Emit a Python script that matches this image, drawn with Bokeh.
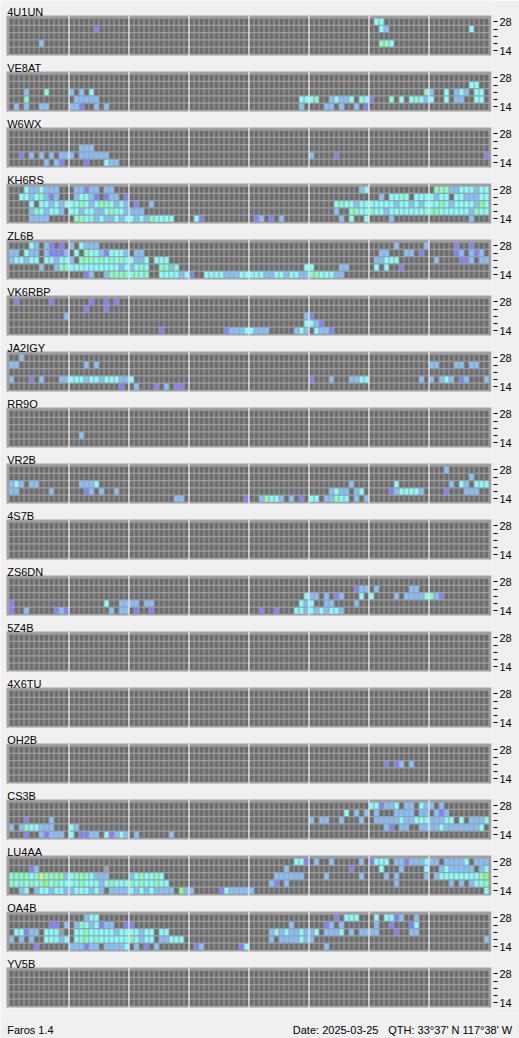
from bokeh.plotting import figure
from bokeh.layouts import column
from bokeh.models import LinearAxis, FixedTicker, Range1d, ColumnDataSource
from bokeh.embed import file_html
from bokeh.resources import INLINE
from bokeh.core.properties import value

# ---------------- data ----------------
STATIONS = ["4U1UN", "VE8AT", "W6WX", "KH6RS", "ZL6B", "VK6RBP", "JA2IGY", "RR9O",
            "VR2B", "4S7B", "ZS6DN", "5Z4B", "4X6TU", "OH2B", "CS3B", "LU4AA",
            "OA4B", "YV5B"]
BANDS = ["28", "24", "21", "18", "14"]          # rows, top to bottom
BAND_LABELS = ["28", "", "", "", "14"]
SLOTS_PER_GROUP = 12                            # 15-minute slots, 3 h per group
GROUPS = 8

# each row: 8 groups of 12 slots; "E" = empty group
# codes: . none, p/b/c/g/G/y signal levels, x gray
st_4U1UN = [
    "E E E E E E .cc E",
    "E .....p E E E E ..cb ........c",
    "E E E E E E E E",
    "......b E E E E E ..ggc E",
    "E E E E E E E E",
]
st_VE8AT = [
    "E E E E E E E E",
    "E E E E E E E ........cc",
    "...b...g b.b.c E E E E ...........g b..c.bcb.cc",
    "...g .bbbbb E E ..........cc cg..bcbbc.cc p...g.c.cgcb c..c.bb..cc",
    ".b.b..bb bbp..b.b E E ..........b ...bb.b..b.p E E",
]
st_W6WX = [
    "E E E E E E E E",
    "E E E E E E E E",
    "E ..bbb E E E E E E",
    "..p.b.b.b.bb b.bbbbbb E E E b....p E ...........p",
    ".......b.bp. ...p...cbb E E E E E E",
]
st_KH6RS = [
    "...cbbcbbb .bbpbb.bb E E E ..........bc E .gggbbcccbcc",
    "..ccbcgbpb .bccbp.pbb.p E E E E ..b.ccgc.ccc cbcc.ccbbbcc",
    "....c.ccbcbc ccgcbcggcbcb .p..b E E .....cgccbcc cccccbccbcbc ccgcbccccbGc",
    "....bgcbccb ccbccbbcgccb bbb E E .....b..ggcc gccbcccccccc ggccccccbgcc",
    "....bbbb .ggcgbcbbcbc cbcbgcccc .cp .pb.p.b ......b.c..c ....b ........b",
]
st_ZL6B = [
    "....cb.bp.p. b.cbbb E E E E .....b.....b .....p..p",
    "bb.cbb.bpppb .c.gccbpcccb .bb E E E ..bb...bb.p. .....pb.bpb.",
    "bccbcc.ccbcc b.gggcgcgcgc cbbc.ccc E E E .bbccc .b....ppb.bb",
    "......b..bgg ccccccccccbc bcgc..ggbg E ...........c c.....bb .c.c..p E",
    "E ...pb..bgggg cgcg..ccccbc p..ccccbbbcc cccbbccbccbb ggcccbb E E",
]
st_VK6RBP = [
    ".p......p ....p..p.p E E E E E E",
    "E ...p...p E E E E E E",
    "...........b E E E ...........b p E E",
    "E E E E ...........c cbp E E",
    "E E ......p .......pbbbc cbbb.....bcb .cbbp E E",
]
st_JA2IGY = [
    "..b E E E E E E E",
    "bb ...b.b E E E E E bb...bb.bb",
    "E E E E E E E E",
    "b...p.b...bb cccbccbcccbb c E E p...b...bbcc ..........b. b.bcb.pb...b",
    "E ..........p. .b...p.b.pp. E E E E E",
]
st_RR9O = [
    "E E E E E E E E",
    "E E E E E E E E",
    "E E E E E E E E",
    "E ..b E E E E E E",
    "E E E E E E E E",
]
st_VR2B = [
    "E E E E E E E ...b",
    "E E E E E E E ........b",
    "bcb.bb ..bbbc E E E ........b .....c ....b.cb.ccc",
    "bb......b ...pb.b..b E E E ....bcbb.bc. ....pbccccb. ...p...bbb",
    "E E .........bb. ...........p ..bgccb.b.p. cc.bbgcc.b.b E E",
]
st_4S7B = [
    "E E E E E E E E",
    "E E E E E E E E",
    "E E E E E E E E",
    "E E E E E E E E",
    "E E E E E E E E",
]
st_ZS6DN = [
    "E E E E E E E E",
    "E E E E E .........pbb .b......bb E",
    "E E E E ...........c bb.b.pb...c. c....b.bbbbc gbp",
    "p .......c..bb bb.bb E ..........cb c..bb....b E E",
    "p..b.....pbp ........b.bb .p..p E ..p..p...ccb cbcbccb E E",
]
st_5Z4B = [
    "E E E E E E E E",
    "E E E E E E E E",
    "E E E E E E E E",
    "E E E E E E E E",
    "E E E E E E E E",
]
st_4X6TU = [
    "E E E E E E E E",
    "E E E E E E E E",
    "E E E E E E E E",
    "E E E E E E E E",
    "E E E E E E E E",
]
st_OH2B = [
    "E E E E E E E E",
    "E E E E E E E E",
    "E E E E E E ...p.pb.b E",
    "E E E E E E E E",
    "E E E E E E E E",
]
st_CS3B = [
    "E E E E E E ccpbbc.bb.cb b.b",
    "E E E E E .......c.b.b .b...bbbb.bb .bpb",
    "...p....b E E E E b.bb..b...b. .bbbbbcbbccc bbbcc.c.bbbc",
    "b.bgccbbb cb E E E E ...bp.bb..bb bbcbbbbbbbc.",
    "...p..bpbbb. c.ppbb.cpbcb .b......b E E E E E",
]
st_LU4AA = [
    "E E E E .........ccp .b..b.....b. pccc.bbpbbbc bb.bbbbc.bbb",
    "....pb .......x E E .......b ........p ..c...b....c ..bcbbbbb.bc",
    "ggggcgygggGb cgggcbbb bcgccgc E .....bbbbbb. ...b......b. ...b.b.....b .bccccccccgG",
    "gcgcgcgGcgcc ccgcccbcgccc gcgccgcc E ....bp.b E .....b ....b.b.bccg",
    "..bc.bccbccb bcccbcb.bbbb cbcbcbbbb.Gb b.....pcbbbb b E E ...........c",
]
st_OA4B = [
    "E ...bcc E E E .....p.ccc.. .c.ccpb..b E",
    "........pp.b .bgcbcpbb..p p E ........b ...pb.b .b..p...pc E",
    ".ccpbb.cccx. .ccgcccccbcc ccbcc.cc E ....bcbcbbcb bc.bbbc.b.bb bb...p..bb E",
    "b.b.b..cccbc .cggcgcccccc gcbcc.bbccc. E ....b.bbbbcb b E ...........b",
    ".....p bbbpbb.bbbbc .b.p.b .pb.......pc E ...b E E",
]
st_YV5B = [
    "E E E E E E E E",
    "E E E E E E E E",
    "E E E E E E E E",
    "E E E E E E E E",
    "E E E E E E E E",
]

GRIDS = [st_4U1UN, st_VE8AT, st_W6WX, st_KH6RS, st_ZL6B, st_VK6RBP, st_JA2IGY,
         st_RR9O, st_VR2B, st_4S7B, st_ZS6DN, st_5Z4B, st_4X6TU, st_OH2B,
         st_CS3B, st_LU4AA, st_OA4B, st_YV5B]

FOOTER_LEFT = "Faros 1.4"
FOOTER_DATE = "Date: 2025-03-25"
FOOTER_QTH = "QTH: 33°37' N"
FOOTER_LON = "117°38' W"

# ---------------- style / layout ----------------
COLORS = {".": "#6e6e6e", "p": "#8080ff", "b": "#80c0ff", "c": "#80ffff",
          "g": "#80ffc0", "G": "#80ff80", "y": "#c0ff80", "x": "#a0a0a0"}
PANEL_COLOR = "#a0a0a0"
BG = "#f0f0f0"
FONT = "Liberation Sans"

W = 519
MAIN_H = 1012
FOOT_H = 26
FRAME_W = 491
SLOT_PX = 5.0
CELL_X0_PX = 9.0                    # pixel of the first slot
X0 = -CELL_X0_PX / SLOT_PX
X1 = X0 + FRAME_W / SLOT_PX
PANEL_X0 = X0 + 6.0 / SLOT_PX
CELL_W = 0.8
PANEL_TOP0 = 15.0
PANEL_PITCH = 56.0
PANEL_H = 40.0
ROW_OFF = 3.3
ROW_PITCH = 7.25
CELL_H = 5.9


def expand(rows):
    out = []
    for s in rows:
        line = "".join(("" if g == "E" else g).ljust(SLOTS_PER_GROUP, ".")[:SLOTS_PER_GROUP]
                       for g in s.split())
        out.append(line.ljust(SLOTS_PER_GROUP * GROUPS, ".")[:SLOTS_PER_GROUP * GROUPS])
    return out


p = figure(width=W, height=MAIN_H, frame_width=FRAME_W, frame_height=MAIN_H,
           x_range=Range1d(X0, X1), y_range=Range1d(MAIN_H, 0),
           x_axis_location=None, y_axis_location=None, title=None,
           toolbar_location=None, output_backend="svg",
           min_border_left=0, min_border_right=W - FRAME_W,
           min_border_top=0, min_border_bottom=0,
           background_fill_color=BG, border_fill_color=BG)
p.outline_line_color = None
p.grid.visible = False

# panel backgrounds
ptops = [PANEL_TOP0 + PANEL_PITCH * i for i in range(len(STATIONS))]
p.quad(left=[PANEL_X0] * len(ptops), right=[X1] * len(ptops), top=ptops,
       bottom=[t + PANEL_H for t in ptops], fill_color=PANEL_COLOR, line_color=None)

# cells
L, R, T, B, C = [], [], [], [], []
for i, grid in enumerate(GRIDS):
    pt = ptops[i]
    for r, line in enumerate(expand(grid)):
        top = pt + ROW_OFF + ROW_PITCH * r
        for c, ch in enumerate(line):
            L.append(c)
            R.append(c + CELL_W)
            T.append(top)
            B.append(top + CELL_H)
            C.append(COLORS.get(ch, COLORS["."]))
src = ColumnDataSource(dict(left=L, right=R, top=T, bottom=B, color=C))
p.quad(left="left", right="right", top="top", bottom="bottom", fill_color="color",
       line_color=None, source=src)

# 3-hour separators
sl, sr, st, sb = [], [], [], []
for pt in ptops:
    for k in range(1, GROUPS):
        x = k * SLOTS_PER_GROUP
        sl.append(x - (1 - CELL_W))
        sr.append(x)
        st.append(pt)
        sb.append(pt + PANEL_H)
p.quad(left=sl, right=sr, top=st, bottom=sb, fill_color="#ffffff", line_color=None)

# station titles
p.text(x=[X0 + 6.7 / SLOT_PX] * len(ptops), y=[t - 3.3 for t in ptops], text=STATIONS,
       text_font=value(FONT), text_font_size="11px", text_color="black",
       text_align="left", text_baseline="alphabetic")

# band axis on the right
ticks, overrides = [], {}
for pt in ptops:
    for r in range(len(BANDS)):
        t = round(pt + ROW_OFF + ROW_PITCH * r + CELL_H / 2, 2)
        ticks.append(t)
        overrides[t] = BAND_LABELS[r]
ax = LinearAxis(ticker=FixedTicker(ticks=ticks), major_label_overrides=overrides,
                axis_line_color=None, minor_tick_line_color=None,
                major_tick_in=-2, major_tick_out=6, major_tick_line_color="black",
                major_label_standoff=2, major_label_text_font=FONT,
                major_label_text_font_size="11px", major_label_text_color="black")
p.add_layout(ax, "right")

# footer strip
f = figure(width=W, height=FOOT_H, frame_width=W, frame_height=FOOT_H,
           x_range=Range1d(0, W), y_range=Range1d(FOOT_H, 0),
           x_axis_location=None, y_axis_location=None, title=None,
           toolbar_location=None, output_backend="svg",
           min_border_left=0, min_border_right=0, min_border_top=0, min_border_bottom=0,
           background_fill_color=BG, border_fill_color=BG)
f.outline_line_color = None
f.grid.visible = False
FY = 17.3
f.text(x=[6.7, 292.3, 387.7], y=[FY] * 3, text=[FOOTER_LEFT, FOOTER_DATE, FOOTER_QTH],
       text_font=value(FONT), text_font_size="11px", text_color="black",
       text_align="left", text_baseline="alphabetic")
f.text(x=[511.7], y=[FY], text=[FOOTER_LON],
       text_font=value(FONT), text_font_size="11px", text_color="black",
       text_align="right", text_baseline="alphabetic")

layout = column(p, f, spacing=0)
open("out.html", "w").write(file_html(layout, INLINE))
